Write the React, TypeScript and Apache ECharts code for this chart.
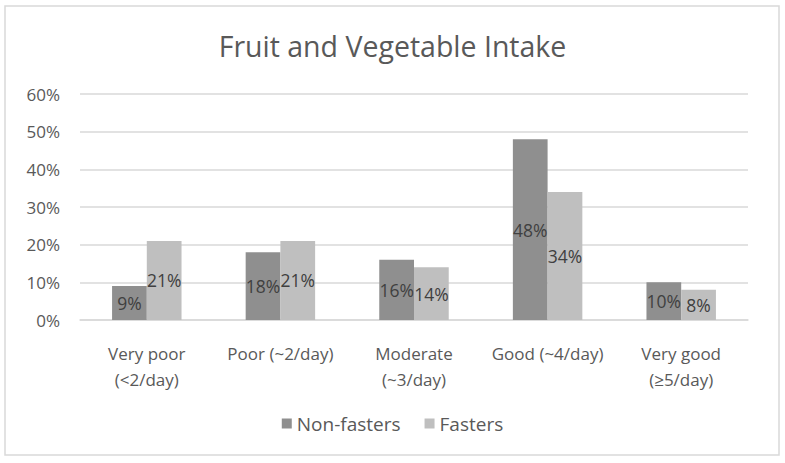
import React, { useEffect, useRef } from "react";
import * as echarts from "echarts";

const categories = [
  "Very poor\n(<2/day)",
  "Poor (~2/day)",
  "Moderate\n(~3/day)",
  "Good (~4/day)",
  "Very good\n(≥5/day)",
];
const nonFasters = [9, 18, 16, 48, 10];
const fasters = [21, 21, 14, 34, 8];
const yTicks = [0, 10, 20, 30, 40, 50, 60];

const FONT = "'Open Sans', 'Noto Sans', sans-serif";

export default function App() {
  const ref = useRef<HTMLDivElement>(null);
  useEffect(() => {
    document.body.style.margin = "0";
    const chart = echarts.init(ref.current!, null, { renderer: "svg" });
    const label = {
      show: true,
      position: "inside" as const,
      formatter: (p: any) => p.value + "%",
      color: "#404040",
      fontSize: 17.5,
      fontFamily: FONT,
    };
    chart.setOption({
      animation: false,
      backgroundColor: "#ffffff",
      textStyle: { fontFamily: FONT },
      title: {
        text: "Fruit and Vegetable Intake",
        left: "center",
        top: 26,
        textStyle: { color: "#595959", fontSize: 28.5, fontWeight: "normal", fontFamily: FONT },
      },
      graphic: [
        {
          type: "rect",
          shape: { x: 5, y: 6, width: 774, height: 449 },
          style: { fill: "none", stroke: "#d9d9d9", lineWidth: 1.5 },
          silent: true,
        },
      ],
      legend: {
        data: ["Non-fasters", "Fasters"],
        left: "center",
        top: 409,
        itemWidth: 10,
        itemHeight: 10,
        itemGap: 24,
        icon: "rect",
        textStyle: { color: "#595959", fontSize: 19, fontFamily: FONT },
      },
      grid: { left: 80, right: 37, top: 94, bottom: 143 },
      xAxis: {
        type: "category",
        data: categories,
        axisLine: { lineStyle: { color: "#d9d9d9", width: 1.5 } },
        axisTick: { show: false },
        axisLabel: {
          color: "#595959",
          fontSize: 17,
          lineHeight: 26,
          margin: 20,
          interval: 0,
          fontFamily: FONT,
        },
      },
      yAxis: {
        type: "value",
        min: yTicks[0],
        max: yTicks[yTicks.length - 1],
        interval: 10,
        axisLine: { show: false },
        axisTick: { show: false },
        splitLine: { lineStyle: { color: "#d9d9d9", width: 1.5 } },
        axisLabel: {
          color: "#595959",
          fontSize: 17,
          margin: 20,
          formatter: (v: number) => v + "%",
          fontFamily: FONT,
        },
      },
      series: [
        {
          name: "Non-fasters",
          type: "bar",
          data: nonFasters,
          itemStyle: { color: "#8f8f8f" },
          barGap: "0%",
          barCategoryGap: "48%",
          label,
        },
        {
          name: "Fasters",
          type: "bar",
          data: fasters,
          itemStyle: { color: "#bfbfbf" },
          barGap: "0%",
          barCategoryGap: "48%",
          label,
        },
      ],
    });
    return () => chart.dispose();
  }, []);
  return (
    <div
      ref={ref}
      style={{ position: "absolute", left: 0, top: 0, width: 785, height: 463 }}
    />
  );
}
